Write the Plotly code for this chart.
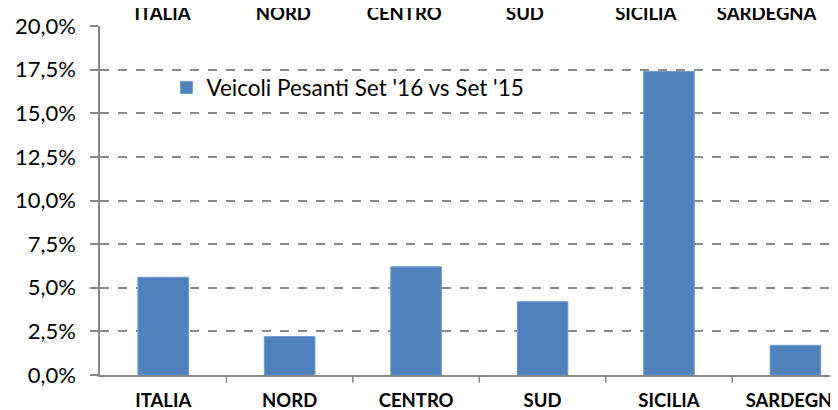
import plotly.graph_objects as go

categories = ["ITALIA", "NORD", "CENTRO", "SUD", "SICILIA", "SARDEGNA"]
values = [5.6, 2.2, 6.2, 4.2, 17.4, 1.7]
series_name = "Veicoli Pesanti Set '16 vs Set '15"
y_ticks = [0, 2.5, 5, 7.5, 10, 12.5, 15, 17.5, 20]
y_ticktext = [f"{v:.1f}%".replace(".", ",") for v in y_ticks]

xr = [-0.5, 5.40]
xr_top = [-0.517, 5.657]

fig = go.Figure()
fig.add_trace(go.Bar(
    x=list(range(len(categories))), y=values, name=series_name,
    marker=dict(color="#4F81BD", line=dict(color="#6d9bd1", width=1)),
    width=0.4, showlegend=True,
))
fig.add_trace(go.Scatter(x=[None], y=[None], xaxis="x2", showlegend=False, hoverinfo="skip"))

fig.update_layout(
    width=838, height=410,
    margin=dict(l=92, r=0, t=18, b=43, autoexpand=False),
    paper_bgcolor="white", plot_bgcolor="white",
    font=dict(family="Lato, 'Open Sans', sans-serif", color="#000"),
    showlegend=True,
    legend=dict(x=0.089, y=0.823, xanchor="left", yanchor="middle",
                font=dict(size=22.5, family="Lato"), bgcolor="rgba(0,0,0,0)",
                itemwidth=30),
    xaxis=dict(
        range=xr, tickvals=list(range(len(categories))), ticktext=categories,
        showgrid=False, showline=True, linecolor="#888", linewidth=1.5,
        ticks="", tickfont=dict(size=18.5, family="Lato", weight="bold"),
        zeroline=False, ticklabelstandoff=8, automargin=False,
    ),
    xaxis2=dict(
        range=xr_top, tickvals=list(range(len(categories))), ticktext=categories,
        overlaying="x", side="top", anchor="y",
        showgrid=False, showline=False, ticks="", zeroline=False,
        tickfont=dict(size=18.5, family="Lato", weight="bold"),
        ticklabelstandoff=1, automargin=False,
    ),
    yaxis=dict(
        range=[0, 20], tickvals=y_ticks, ticktext=y_ticktext,
        showgrid=True, gridcolor="#888", griddash="dash", gridwidth=1.5,
        showline=True, linecolor="#888", linewidth=1.5,
        ticks="outside", ticklen=8, tickcolor="#888", tickwidth=1.5,
        tickfont=dict(size=22, family="Lato"), zeroline=False,
        ticklabelstandoff=10, automargin=False,
    ),
)

# boundary tick marks on bottom axis
for b in [0.5, 1.5, 2.5, 3.5, 4.5]:
    fig.add_shape(type="line", xref="x", yref="paper", x0=b, x1=b, y0=0, y1=-0.022,
                  line=dict(color="#888", width=1.5))

fig.write_html("out.html")
